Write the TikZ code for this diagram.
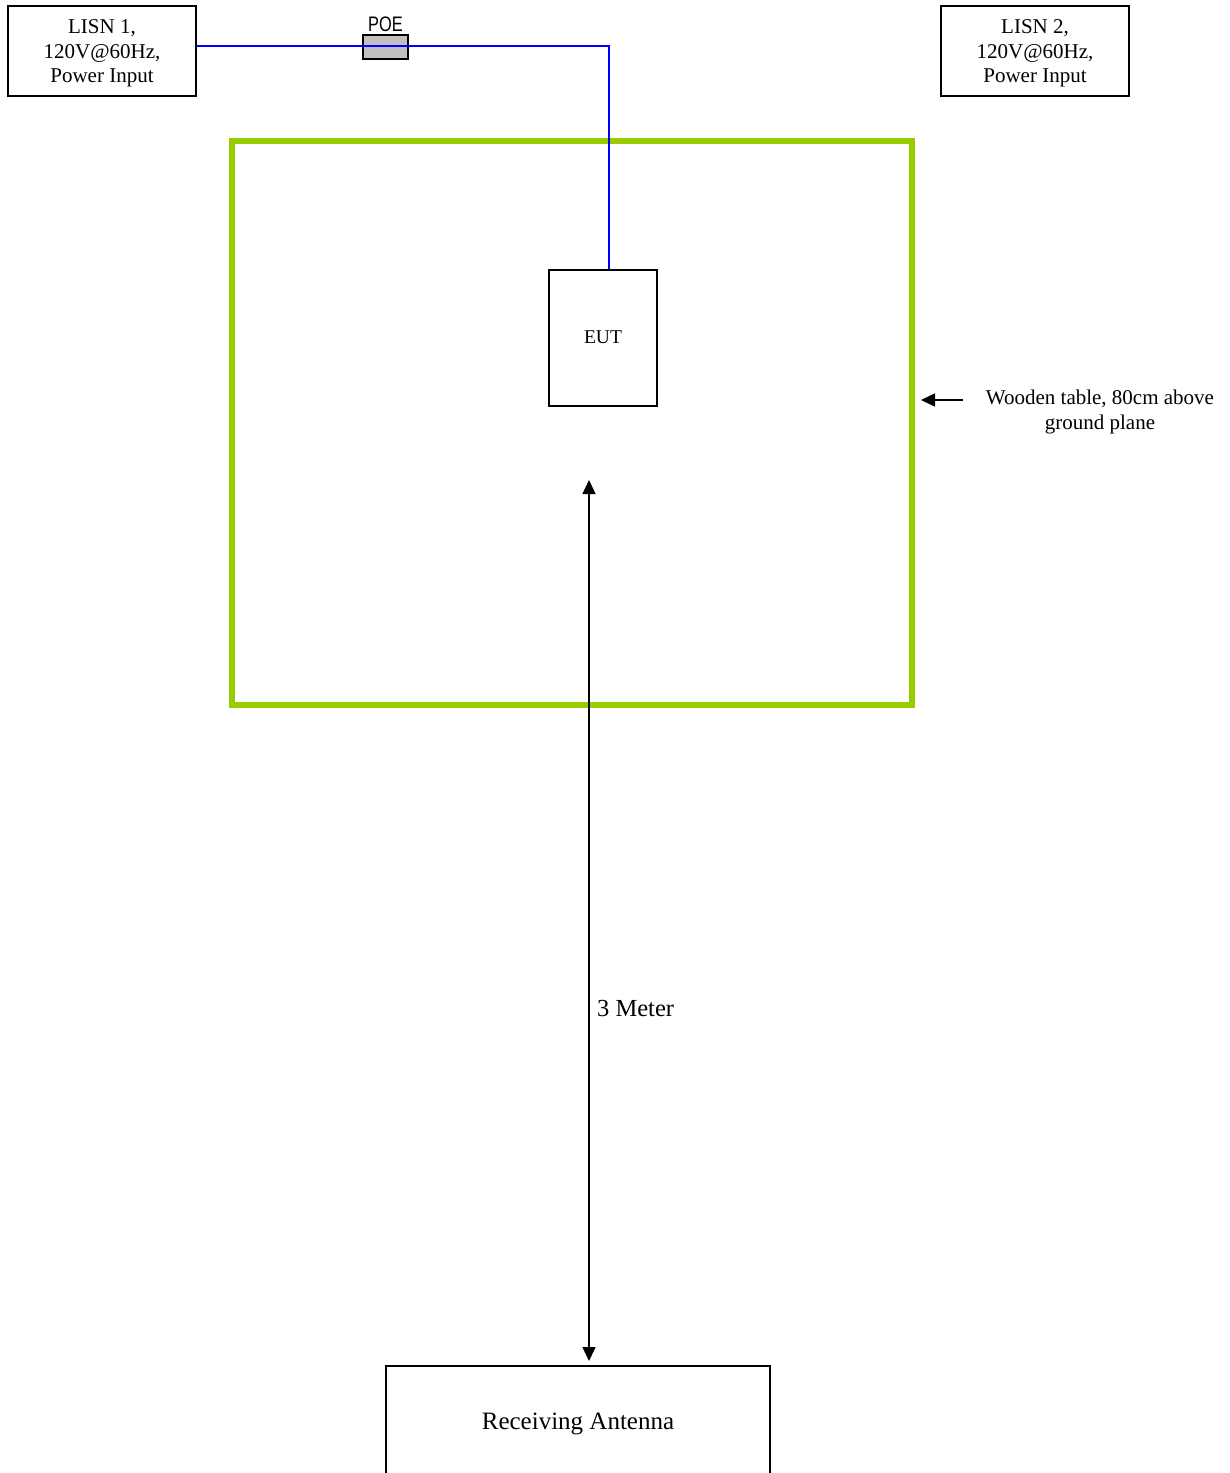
\documentclass[tikz,border=0pt]{standalone}
\usepackage{fontspec}
\setmainfont{Liberation Serif}
\newfontfamily\poefont{Liberation Sans}[FakeStretch=0.78]
\usetikzlibrary{arrows.meta}
\definecolor{tablegreen}{HTML}{99CC00}
\definecolor{poegray}{HTML}{C0C0C0}
\definecolor{cableblue}{HTML}{0000FF}
\tikzset{
  box/.style={draw=black, line width=1.5pt, inner sep=0pt},
  boxtext/.style={inner sep=0pt, align=center, font=\fontsize{21}{24.5}\selectfont},
  tip/.style={-{Triangle[length=14pt,width=13pt]}, line width=1.5pt},
  cable/.style={draw=cableblue, line width=1.5pt},
}
\begin{document}
\begin{tikzpicture}[x=1pt,y=-1pt]
\useasboundingbox (0,0) rectangle (1230,1473);
\clip (0,0) rectangle (1230,1473);
% LISN boxes
\node[box, minimum width=188pt, minimum height=90pt] (lisn1) at (102,51) {};
\node[boxtext] (lisn1text) at ([yshift=-2.5pt]lisn1.center) {LISN 1,\\120V@60Hz,\\Power Input};
\node[box, minimum width=188pt, minimum height=90pt] (lisn2) at (1035,51) {};
\node[boxtext] (lisn2text) at ([yshift=-2.5pt]lisn2.center) {LISN 2,\\120V@60Hz,\\Power Input};
% table
\node[draw=tablegreen, line width=6pt, minimum width=680pt, minimum height=564pt, inner sep=0pt] (table) at (572,423) {};
% EUT
\node[box, minimum width=108pt, minimum height=136pt] (eut) at (603,338) {};
\node[boxtext, font=\fontsize{19.5}{22}\selectfont] (euttext) at ([yshift=1pt]eut.center) {EUT};
% POE
\node[draw=black, line width=1.5pt, fill=poegray, minimum width=45pt, minimum height=24pt, inner sep=0pt] (poe) at (385.5,47) {};
\node[anchor=south, inner sep=0pt, font=\poefont\fontsize{21}{22}\selectfont] (poelabel) at (385.5,31.5) {POE};
% cable
\coordinate (bend) at (609,46);
\draw[cable] (lisn1.east |- bend) -- (bend) -- (bend |- eut.north);
% wooden table label
\node[boxtext, font=\fontsize{21}{25}\selectfont] (tablelabel) at (1100,412) {Wooden table, 80cm above\\ground plane};
\coordinate (tl) at (963,400);
\draw[tip] (tl) -- (921,400);
% antenna
\node[box, minimum width=384pt, minimum height=110pt] (antenna) at (578,1421) {};
\node[boxtext, font=\fontsize{25}{28}\selectfont] (antennatext) at ([yshift=-3pt]antenna.center) {Receiving Antenna};
% distance arrow
\coordinate (atop) at (589,480);
\coordinate (abot) at (589,1361);
\draw[{Triangle[length=14pt,width=13pt]}-{Triangle[length=14pt,width=13pt]}, line width=1.5pt] (atop) -- (abot);
\node[anchor=west, font=\fontsize{24.5}{28}\selectfont, inner sep=0pt] (meter) at (597,1008) {3 Meter};
\end{tikzpicture}
\end{document}
